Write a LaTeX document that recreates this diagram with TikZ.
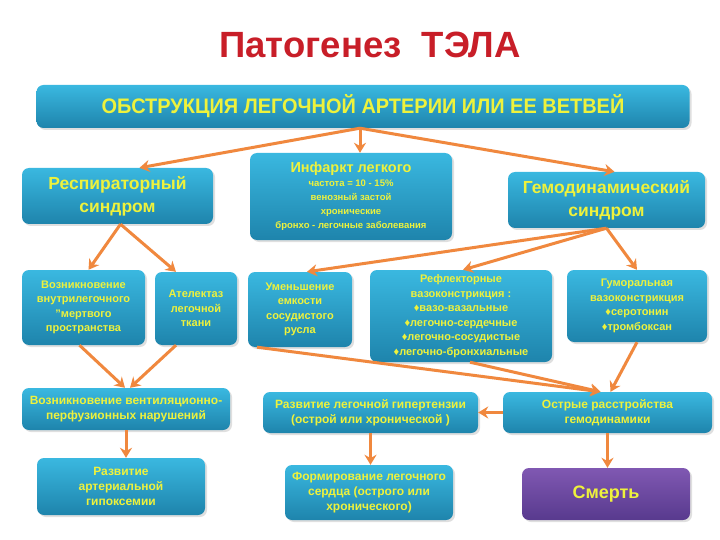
\documentclass[tikz,border=0pt]{standalone}
\usepackage{fontspec}
\setmainfont{Liberation Sans}
\newfontfamily\barfont[FakeStretch=0.95]{Liberation Sans}
\usetikzlibrary{arrows.meta,shadows}
\definecolor{boxtop}{RGB}{58,184,224}
\definecolor{boxbot}{RGB}{30,132,172}
\definecolor{txtyel}{RGB}{238,242,60}
\definecolor{arrorange}{RGB}{240,136,62}
\definecolor{titlered}{RGB}{200,30,40}
\definecolor{deathtop}{RGB}{128,88,178}
\definecolor{deathbot}{RGB}{88,58,142}
\begin{document}
\begin{tikzpicture}[x=1pt, y=-1pt,
		blk/.style={rounded corners=7pt, top color=boxtop, bottom color=boxbot, text=txtyel, align=center, inner sep=2pt,
			drop shadow={opacity=0.25, shadow xshift=2pt, shadow yshift=-2pt}},
		big/.style={font=\bfseries\fontsize{17.5}{23}\selectfont},
		mid/.style={font=\bfseries\fontsize{12}{15}\selectfont},
		sml/.style={font=\bfseries\fontsize{11}{14.5}\selectfont},
		arr/.style={draw=arrorange, line width=3pt, -{Stealth[length=10pt,width=12pt]}}]
		\useasboundingbox[fill=white] (0,0) rectangle (720,540);

		\node[text=titlered, font=\bfseries\fontsize{36.5}{40}\selectfont] (title) at (370,45) {Патогенез\ \ ТЭЛА};

		\node[blk, minimum width=653pt, minimum height=43pt, font=\barfont\bfseries\fontsize{21}{24}\selectfont] (obst) at (363,106.5) {ОБСТРУКЦИЯ ЛЕГОЧНОЙ АРТЕРИИ ИЛИ ЕЕ ВЕТВЕЙ};

		\node[blk, big, minimum width=191pt, minimum height=56pt] (resp) at (117.5,196) {Респираторный\\синдром};
		\node[blk, minimum width=202pt, minimum height=87pt, font=\bfseries\fontsize{9.5}{14}\selectfont] (inf) at (351,196.5) {{\fontsize{14.5}{18}\selectfont Инфаркт легкого}\\частота = 10 - 15\%\\венозный застой\\хронические\\бронхо - легочные заболевания};
		\node[blk, big, minimum width=197pt, minimum height=56pt] (hemo) at (606.5,200) {Гемодинамический\\синдром};

		\node[blk, sml, minimum width=123pt, minimum height=75pt] (dead) at (83.5,307.5) {Возникновение\\внутрилегочного\\"мертвого\\пространства};
		\node[blk, sml, minimum width=82pt, minimum height=73pt] (atel) at (196,308.5) {Ателектаз\\легочной\\ткани};
		\node[blk, sml, minimum width=104pt, minimum height=75pt] (umen) at (300,309.5) {Уменьшение\\емкости\\сосудистого\\русла};
		\node[blk, sml, minimum width=182pt, minimum height=92pt] (refl) at (461,316) {Рефлекторные\\вазоконстрикция :\\♦вазо-вазальные\\♦легочно-сердечные\\♦легочно-сосудистые\\♦легочно-бронхиальные};
		\node[blk, sml, minimum width=140pt, minimum height=72pt] (gumor) at (637,306) {Гуморальная\\вазоконстрикция\\♦серотонин\\♦тромбоксан};

		\node[blk, mid, minimum width=208pt, minimum height=42pt] (vent) at (126,409) {Возникновение вентиляционно-\\перфузионных нарушений};
		\node[blk, mid, minimum width=215pt, minimum height=41pt] (gipert) at (370.5,412.5) {Развитие легочной гипертензии\\(острой или хронической )};
		\node[blk, mid, minimum width=209pt, minimum height=41pt] (ostr) at (607.5,412.5) {Острые расстройства\\гемодинамики};

		\node[blk, mid, minimum width=168pt, minimum height=57pt] (gipox) at (121,486.5) {Развитие\\артериальной\\гипоксемии};
		\node[blk, mid, minimum width=168pt, minimum height=55pt] (serd) at (369,492.5) {Формирование легочного\\сердца (острого или\\хронического)};
		\node[blk, top color=deathtop, bottom color=deathbot, minimum width=168pt, minimum height=52pt, font=\bfseries\fontsize{18}{22}\selectfont] (death) at (606,494) {Смерть};

		\coordinate (otop) at ([xshift=-3pt]obst.south);
		\draw[arr] (otop) -- ([xshift=22pt]resp.north);
		\draw[arr] (otop) -- (otop |- inf.north);
		\draw[arr] (otop) -- ([xshift=8pt]hemo.north);

		\draw[arr] ([xshift=3pt]resp.south) -- ([xshift=5pt]dead.north);
		\draw[arr] ([xshift=3pt]resp.south) -- ([xshift=-20pt]atel.north);
		\draw[arr] ([xshift=-4pt]dead.south) -- ([xshift=-1pt]vent.north);
		\draw[arr] ([xshift=-20pt]atel.south) -- ([xshift=4pt]vent.north);
		\draw[arr] (vent.south) -- (vent.south |- gipox.north);

		\draw[arr] (hemo.south) -- ([xshift=7pt]umen.north);
		\draw[arr] (hemo.south) -- ([xshift=2pt]refl.north);
		\draw[arr] (hemo.south) -- (gumor.north);

		\draw[arr] ([xshift=-43pt]umen.south) -- ([xshift=-7pt]ostr.north);
		\draw[arr] ([xshift=9pt]refl.south) -- ([xshift=-7pt]ostr.north);
		\draw[arr] (gumor.south) -- ([xshift=3pt]ostr.north);

		\draw[arr] (ostr.west) -- (gipert.east);
		\draw[arr] (gipert.south) -- (gipert.south |- serd.north);
		\draw[arr] (ostr.south) -- (ostr.south |- death.north);
	\end{tikzpicture}
\end{document}
